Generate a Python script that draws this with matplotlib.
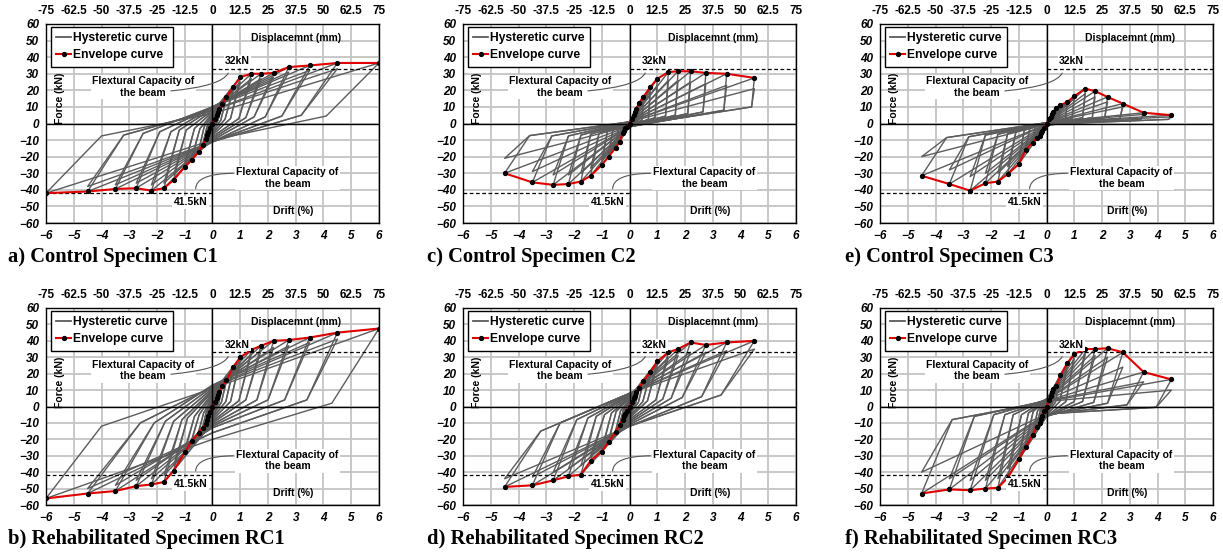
import matplotlib
matplotlib.use('Agg')
import matplotlib.pyplot as plt
from matplotlib.lines import Line2D

plt.rcParams['font.family'] = ['Liberation Sans', 'DejaVu Sans']

# drift levels of the loading protocol (%)
drift_levels = [0.1, 0.15, 0.2, 0.25, 0.35, 0.5, 0.75, 1.0, 1.4, 1.75, 2.2, 2.75, 3.5, 4.5, 6.0]
mm_ticks = [-75, -62.5, -50, -37.5, -25, -12.5, 0, 12.5, 25, 37.5, 50, 62.5, 75]
drift_ticks = [-6, -5, -4, -3, -2, -1, 0, 1, 2, 3, 4, 5, 6]
force_ticks = [-60, -50, -40, -30, -20, -10, 0, 10, 20, 30, 40, 50, 60]

# ---- C1 ----
c1_pos = [3, 5, 7, 9, 12, 16, 22, 28, 30, 30, 30.5, 34, 35, 36.5, 36.5]
c1_neg = [-3, -5, -7, -9.5, -13, -17, -22, -26, -34, -39, -40.5, -39, -39.5, -41, -42]
c1_pos2 = [2.8, 4.5, 6.5, 8.5, 11, 15, 20, 25, 27, 27, 28, 31, 32, 33]
c1_neg2 = [-2.8, -4.5, -6.5, -9, -12, -16, -20, -24, -31, -36, -37, -36, -37, -38]
c1_knee_d_pos = [0.06, 0.09, 0.12, 0.15, 0.2, 0.3, 0.45, 0.65, 0.95, 1.2, 1.5, 1.9, 2.5, 3.2, 4.1]
c1_knee_f_pos = [0.5, 1, 1, 1.5, 2, 2, 2.5, 3, 3, 3.5, 4, 4, 4.5, 5, 4.5]
c1_f0_neg = [-1, -1.5, -2, -3, -4, -5, -6, -7, -8, -9, -10, -11, -11, -11, -10]
c1_knee_d_neg = [-0.06, -0.09, -0.12, -0.15, -0.2, -0.3, -0.45, -0.65, -0.95, -1.2, -1.5, -1.9, -2.5, -3.2, -4.0]
c1_knee_f_neg = [-0.5, -1, -1, -1.5, -2, -2, -3, -3, -4, -4, -5, -5, -6, -7, -7.5]
c1_f0_pos = [1, 1.5, 2, 3, 4, 5, 6, 7, 8, 9, 10, 10, 10, 8, 6]

# ---- C2 ----
c2_pos = [3, 5, 7, 9, 12.5, 16, 22, 27, 31, 31.5, 31.5, 30.5, 30, 27.5]
c2_neg = [-2, -3, -4.5, -6, -11, -14.5, -20, -25, -31.5, -35, -36.5, -37, -35.5, -30]
c2_pos2 = [2.8, 4.5, 6.5, 8.5, 11.5, 14.5, 19, 23, 26, 26, 25, 24, 23, 21]
c2_neg2 = [-2, -3, -4, -5.5, -10, -13, -18, -22, -27, -30, -31, -31, -29, -21]
c2_knee_d_pos = [0.09, 0.14, 0.18, 0.23, 0.3, 0.45, 0.68, 0.92, 1.3, 1.65, 2.1, 2.65, 3.4, 4.4]
c2_knee_f_pos = [0.5, 0.8, 1, 1.2, 1.5, 2, 2.5, 3.5, 4.5, 5, 6, 7, 8, 10]
c2_f0_neg = [-0.5, -0.5, -0.5, -1, -1, -1, -1.5, -1.5, -1.5, -2, -2, -2, -2, -1.5]
c2_knee_d_neg = [-0.08, -0.12, -0.16, -0.2, -0.28, -0.4, -0.6, -0.8, -1.1, -1.4, -1.75, -2.2, -2.8, -3.6]
c2_knee_f_neg = [-0.5, -0.8, -1, -1.5, -2.5, -3, -4, -5, -6, -6.5, -7, -7.5, -7.5, -7.3]
c2_f0_pos = [0.3, 0.5, 0.5, 0.5, 1, 1, 1, 1, 1, 1, 1, 1, 1, 1]

# ---- C3 ----
c3_pos = [2.5, 4, 5.5, 7, 9.5, 11, 13, 16.5, 21, 19.5, 16, 12, 6.5, 5]
c3_neg = [-3, -4.5, -6, -7.5, -8.5, -11.5, -16, -24.5, -30.5, -35, -36, -40.5, -36.5, -31.5]
c3_pos2 = [2.3, 3.5, 5, 6.5, 8.5, 10, 12, 15, 18, 16, 13, 10, 5.5, 4]
c3_neg2 = [-2.8, -4, -5.5, -7, -8, -10.5, -14, -21, -26, -30, -30, -32, -28, -20]
c3_knee_d_pos = [0.09, 0.14, 0.18, 0.23, 0.3, 0.45, 0.68, 0.92, 1.3, 1.65, 2.1, 2.65, 3.4, 4.4]
c3_knee_f_pos = [0.5, 0.8, 1, 1.2, 1.5, 2, 2.5, 3, 3.5, 3.5, 3.5, 3, 2.5, 2.5]
c3_f0_neg = [-0.5, -0.5, -0.5, -1, -1, -1, -1, -1, -1, -1, -1, -1, -0.5, -0.5]
c3_knee_d_neg = [-0.08, -0.12, -0.16, -0.2, -0.28, -0.4, -0.6, -0.8, -1.1, -1.4, -1.75, -2.2, -2.8, -3.6]
c3_knee_f_neg = [-0.5, -0.8, -1, -1.2, -1.5, -2, -3, -4, -5, -6, -6.5, -7, -8, -8.5]
c3_f0_pos = [0.2, 0.3, 0.3, 0.5, 0.5, 0.5, 0.5, 0.5, 0.5, 0.5, 0.5, 0.5, 0.5, 0.5]

# ---- RC1 ----
rc1_pos = [3, 5, 7, 9, 12.5, 16, 24, 30, 34.5, 37, 40, 40.5, 42, 45, 47.5]
rc1_neg = [-3.5, -5.5, -8, -10.5, -13, -16, -21, -28, -39, -46, -47.5, -48.5, -51.5, -53, -56]
rc1_pos2 = [2.8, 4.5, 6.5, 8.5, 11.5, 15, 22, 28, 32, 34, 36, 37, 39, 41]
rc1_neg2 = [-3.2, -5, -7.5, -10, -12, -15, -20, -26, -36, -42, -44, -45, -48, -50]
rc1_knee_d_pos = [0.07, 0.1, 0.13, 0.16, 0.22, 0.32, 0.48, 0.65, 0.95, 1.2, 1.6, 2.0, 2.6, 3.4, 4.3]
rc1_knee_f_pos = [0.5, 1, 1, 1.5, 2, 2.5, 3, 3, 3.5, 4, 4, 4, 4, 4, 2]
rc1_f0_neg = [-1.5, -2, -3, -4, -5, -6, -7, -8, -9, -10, -11, -12, -13, -16, -20]
rc1_knee_d_neg = [-0.07, -0.1, -0.13, -0.16, -0.22, -0.32, -0.48, -0.65, -0.9, -1.1, -1.4, -1.7, -2.1, -2.6, -4.0]
rc1_knee_f_neg = [-1, -1.5, -2, -2.5, -3, -4, -5, -6, -7, -8, -9, -9, -10, -10, -12]
rc1_f0_pos = [1.5, 2, 3, 4, 5, 6, 7, 8, 9, 10, 11, 12, 13, 12, 11]

# ---- RC2 ----
rc2_pos = [3, 5, 6.5, 9, 11.5, 15.5, 21, 27.5, 33, 35, 39, 37.5, 39, 40]
rc2_neg = [-2.5, -4.5, -6, -8, -11, -15.5, -21.5, -27.5, -33, -41.5, -42.5, -45, -48, -49]
rc2_pos2 = [2.8, 4.5, 6, 8.5, 10.5, 14.5, 19.5, 25, 30, 31, 33, 33, 34, 35]
rc2_neg2 = [-2.3, -4, -5.5, -7.5, -10, -14.5, -20, -25.5, -30, -36, -38, -40, -43, -44]
rc2_knee_d_pos = [0.07, 0.1, 0.13, 0.16, 0.22, 0.32, 0.48, 0.65, 0.95, 1.2, 1.5, 1.9, 2.6, 3.3]
rc2_knee_f_pos = [0.5, 1, 1, 1.5, 2, 2.5, 3, 3.5, 4, 4.5, 5, 5.5, 6, 7]
rc2_f0_neg = [-1, -1.5, -2, -3, -4, -5, -6, -7, -8, -9, -10, -11, -12, -12]
rc2_knee_d_neg = [-0.07, -0.1, -0.13, -0.16, -0.22, -0.32, -0.48, -0.65, -0.9, -1.2, -1.5, -1.9, -2.5, -3.2]
rc2_knee_f_neg = [-0.5, -1, -1, -1.5, -2, -2.5, -3, -4, -5, -6, -7, -8, -10, -15]
rc2_f0_pos = [1, 1.5, 2, 3, 3.5, 4, 5, 5.5, 6, 6.5, 7, 7.5, 8, 8]

# ---- RC3 ----
rc3_pos = [4, 6.5, 9, 10.5, 12.5, 19, 26.5, 32, 35, 35, 35.5, 33, 21, 16.5]
rc3_neg = [-3, -5.5, -7.5, -10, -12.5, -17.5, -24.5, -32, -43.5, -49.5, -50, -51, -50.5, -53]
rc3_pos2 = [3.5, 6, 8, 9.5, 11.5, 17, 24, 29, 32, 31, 30, 24, 15, 10]
rc3_neg2 = [-2.8, -5, -7, -9, -11.5, -16, -22, -29, -38, -44, -45, -45, -44, -40]
rc3_knee_d_pos = [0.07, 0.1, 0.13, 0.16, 0.22, 0.32, 0.48, 0.7, 1.0, 1.3, 1.7, 2.2, 2.9, 3.95]
rc3_knee_f_pos = [0.5, 1, 1, 1.5, 2, 2.5, 3, 3, 3, 3, 2.5, 2, 1, -0.5]
rc3_f0_neg = [-1, -1.5, -2, -2.5, -3, -4, -5, -6, -6, -6, -6, -5.5, -5, -4.5]
rc3_knee_d_neg = [-0.07, -0.1, -0.13, -0.16, -0.22, -0.32, -0.48, -0.65, -0.9, -1.2, -1.5, -1.9, -2.6, -3.4]
rc3_knee_f_neg = [-0.5, -1, -1, -1.5, -2, -2.5, -3, -4, -5, -5, -5, -5, -6, -8]
rc3_f0_pos = [1, 1.5, 2, 2.5, 3, 3.5, 4, 4, 4.5, 4.5, 4, 4, 3.5, 3]

titles = ['a) Control Specimen C1', 'c) Control Specimen C2', 'e) Control Specimen C3',
          'b) Rehabilitated Specimen RC1', 'd) Rehabilitated Specimen RC2', 'f) Rehabilitated Specimen RC3']

panels = [
    (c1_pos, c1_neg, c1_pos2, c1_neg2, c1_knee_d_pos, c1_knee_f_pos, c1_f0_neg,
     c1_knee_d_neg, c1_knee_f_neg, c1_f0_pos),
    (c2_pos, c2_neg, c2_pos2, c2_neg2, c2_knee_d_pos, c2_knee_f_pos, c2_f0_neg,
     c2_knee_d_neg, c2_knee_f_neg, c2_f0_pos),
    (c3_pos, c3_neg, c3_pos2, c3_neg2, c3_knee_d_pos, c3_knee_f_pos, c3_f0_neg,
     c3_knee_d_neg, c3_knee_f_neg, c3_f0_pos),
    (rc1_pos, rc1_neg, rc1_pos2, rc1_neg2, rc1_knee_d_pos, rc1_knee_f_pos, rc1_f0_neg,
     rc1_knee_d_neg, rc1_knee_f_neg, rc1_f0_pos),
    (rc2_pos, rc2_neg, rc2_pos2, rc2_neg2, rc2_knee_d_pos, rc2_knee_f_pos, rc2_f0_neg,
     rc2_knee_d_neg, rc2_knee_f_neg, rc2_f0_pos),
    (rc3_pos, rc3_neg, rc3_pos2, rc3_neg2, rc3_knee_d_pos, rc3_knee_f_pos, rc3_f0_neg,
     rc3_knee_d_neg, rc3_knee_f_neg, rc3_f0_pos),
]

W, H = 1223, 556
fig = plt.figure(figsize=(W / 100, H / 100), dpi=100)

lefts = [46, 463, 880]
tops = [24, 308]
heights = [199, 197]
title_x = [8, 427, 845]
title_y = [257, 539]

gray = '#5c5c5c'
red = '#e00000'
bold = dict(fontweight='bold')


def draw_loop(ax, d, fp, kdp, kfp, f0n, fn, kdn, kfn, f0p):
    xs = [0, d, kdp, 0, -d, kdn, 0]
    ys = [f0p, fp, kfp, f0n, fn, kfn, f0p]
    ax.plot(xs, ys, color=gray, lw=1.0, zorder=2)


for k, (pos, neg, pos2, neg2, kdp, kfp, f0n, kdn, kfn, f0p) in enumerate(panels):
    row, col = k // 3, k % 3
    ax = fig.add_axes([lefts[col] / W, 1 - (tops[row] + heights[row]) / H, 333 / W, heights[row] / H])
    n = len(pos)
    d = drift_levels[:n]

    # hysteretic loops (first and repeated cycle of each drift level)
    for i in range(n):
        draw_loop(ax, d[i], pos[i], kdp[i], kfp[i], f0n[i], neg[i], kdn[i], kfn[i], f0p[i])
        if i < len(pos2):
            draw_loop(ax, d[i], pos2[i], kdp[i], kfp[i], f0n[i], neg2[i], kdn[i], kfn[i], f0p[i])

    # envelope
    ex = [-v for v in d[::-1]] + [0] + d
    ey = neg[::-1] + [0] + pos
    ax.plot(ex, ey, color=red, lw=1.5, zorder=3)
    ax.plot(ex, ey, ls='none', marker='o', ms=2.8, color='black', zorder=4)

    ax.axhline(0, color='black', lw=1, zorder=2.5)
    ax.axvline(0, color='black', lw=1, zorder=2.5)

    # flexural capacity lines
    ax.plot([0, 6], [33, 33], color='black', ls=(0, (3, 2)), lw=0.9, zorder=2.6)
    ax.plot([-6, 0], [-42, -42], color='black', ls=(0, (3, 2)), lw=0.9, zorder=2.6)

    ax.set_xlim(-6, 6)
    ax.set_ylim(-60, 60)
    ax.set_xticks(drift_ticks)
    ax.set_yticks(force_ticks)
    ax.grid(True, color='#c4c4c4', lw=1.3)
    ax.set_axisbelow(True)
    for s in ax.spines.values():
        s.set_color('black')
        s.set_linewidth(1)
    ax.tick_params(length=0, pad=5)
    for lab in ax.get_xticklabels() + ax.get_yticklabels():
        lab.set_fontweight('bold')
        lab.set_fontstyle('italic')
        lab.set_fontsize(8.5)

    sec = ax.secondary_xaxis('top', functions=(lambda x: x * 12.5, lambda x: x / 12.5))
    sec.set_xticks(mm_ticks)
    sec.set_xticklabels(['%g' % v for v in mm_ticks], fontsize=8.5, fontweight='bold')
    sec.tick_params(length=0, pad=5)
    sec.spines['top'].set_visible(False)

    # texts
    ax.text(3.0, 51.5, 'Displacemnt (mm)', fontsize=7.5, ha='center', va='center', zorder=5, **bold)
    ax.text(2.9, -52.5, 'Drift (%)', fontsize=7.5, ha='center', va='center', zorder=5, **bold)
    ax.text(-5.5, 15, 'Force (kN)', fontsize=7.5, rotation=90, ha='center', va='center', zorder=5, **bold)
    ax.text(0.9, 37.5, '32kN', fontsize=7.5, ha='center', va='center', zorder=5,
            bbox=dict(fc='white', ec='none', pad=1), **bold)
    ax.text(-0.8, -47.5, '41.5kN', fontsize=7.5, ha='center', va='center', zorder=5,
            bbox=dict(fc='white', ec='none', pad=1), **bold)
    ax.text(-2.5, 22, 'Flextural Capacity of\nthe beam', fontsize=7.5, ha='center', va='center',
            linespacing=1.2, zorder=5, bbox=dict(fc='white', ec='none', pad=1), **bold)
    ax.text(2.7, -33, 'Flextural Capacity of\nthe beam', fontsize=7.5, ha='center', va='center',
            linespacing=1.2, zorder=5, bbox=dict(fc='white', ec='none', pad=1), **bold)
    ax.annotate('', xy=(0.6, 32), xytext=(-1.6, 19.5),
                arrowprops=dict(arrowstyle='-', color='#555555', lw=0.8,
                                connectionstyle='angle3,angleA=5,angleB=80'), zorder=5)
    ax.annotate('', xy=(-0.6, -41), xytext=(0.85, -30),
                arrowprops=dict(arrowstyle='-', color='#555555', lw=0.8,
                                connectionstyle='angle3,angleA=180,angleB=-80'), zorder=5)

    handles = [Line2D([], [], color=gray, lw=1.3),
               Line2D([], [], color=red, lw=1.5, marker='o', ms=2.8, mfc='black', mec='black')]
    leg = ax.legend(handles, ['Hysteretic curve', 'Envelope curve'], loc='upper left',
                    bbox_to_anchor=(0.015, 0.985), borderaxespad=0, fancybox=False,
                    edgecolor='black', framealpha=1, handlelength=1.2, handletextpad=0.2,
                    borderpad=0.45, labelspacing=0.4, prop=dict(size=8.7, weight='bold'))
    leg.get_frame().set_linewidth(1)
    leg.set_zorder(6)

    fig.text(title_x[col] / W, 1 - title_y[row] / H, titles[k], fontsize=14.8,
             family=['Liberation Serif', 'DejaVu Serif'], fontweight='bold', ha='left', va='center')

fig.savefig('out.png', dpi=100)
